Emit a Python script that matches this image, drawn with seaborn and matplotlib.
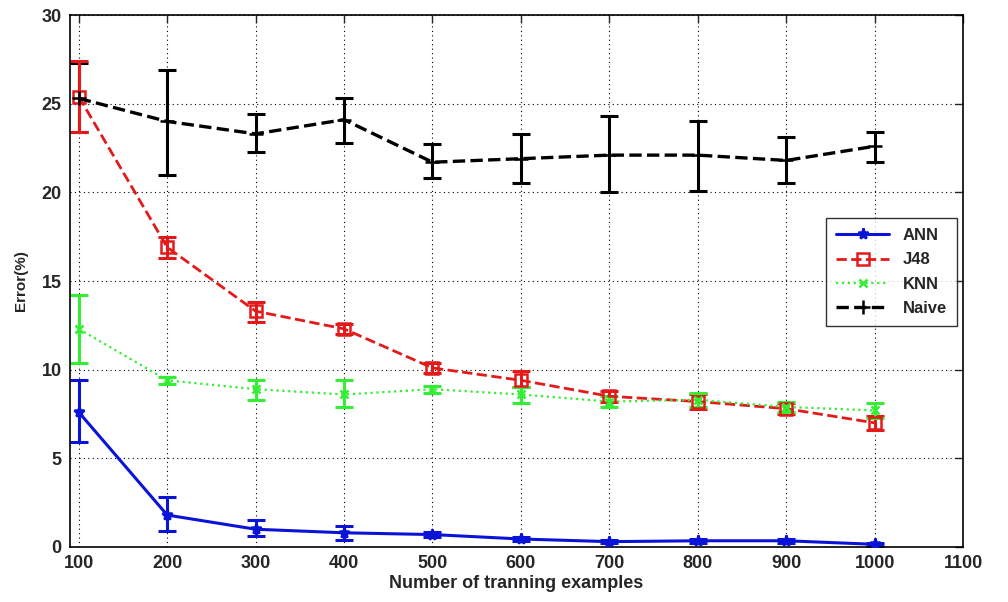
import numpy as np
import pandas as pd
import matplotlib
matplotlib.use("Agg")
import matplotlib.pyplot as plt
import seaborn as sns

x = [100, 200, 300, 400, 500, 600, 700, 800, 900, 1000]

ann = [7.6, 1.8, 1.0, 0.8, 0.7, 0.45, 0.3, 0.35, 0.35, 0.15]
ann_lo = [5.9, 0.9, 0.6, 0.4, 0.55, 0.35, 0.2, 0.25, 0.25, 0.05]
ann_hi = [9.4, 2.8, 1.5, 1.2, 0.85, 0.55, 0.4, 0.45, 0.45, 0.25]

j48 = [25.4, 16.9, 13.3, 12.3, 10.1, 9.4, 8.5, 8.2, 7.8, 7.0]
j48_lo = [23.4, 16.3, 12.7, 12.0, 9.8, 9.0, 8.2, 7.8, 7.5, 6.6]
j48_hi = [27.4, 17.5, 13.8, 12.6, 10.4, 9.9, 8.8, 8.6, 8.1, 7.4]

knn = [12.3, 9.4, 8.9, 8.6, 8.9, 8.6, 8.2, 8.3, 7.9, 7.7]
knn_lo = [10.4, 9.2, 8.3, 7.9, 8.7, 8.1, 7.9, 7.9, 7.6, 7.3]
knn_hi = [14.2, 9.6, 9.4, 9.4, 9.1, 9.0, 8.5, 8.7, 8.2, 8.1]

naive = [25.3, 24.0, 23.3, 24.1, 21.7, 21.9, 22.1, 22.1, 21.8, 22.6]
naive_lo = [23.4, 21.0, 22.3, 22.8, 20.8, 20.5, 20.0, 20.1, 20.5, 21.7]
naive_hi = [27.3, 26.9, 24.4, 25.3, 22.7, 23.3, 24.3, 24.0, 23.1, 23.4]

series = ["ANN", "J48", "KNN", "Naive"]
xlabel = "Number of tranning examples"
ylabel = "Error(%)"

sns.set_style("white")
plt.rcParams['font.family'] = ['Liberation Sans', 'DejaVu Sans']
plt.rcParams['font.weight'] = 'bold'

fig = plt.figure(figsize=(10.08, 6.02), dpi=100)
ax = fig.add_axes([0.0694, 0.0914, 0.8860, 0.8836])

styles = {
    "ANN": dict(color="#0a14d8", ls="-", marker="*", lw=2.2, ms=8, mfc="#0a14d8"),
    "J48": dict(color="#e41a1a", ls="--", marker="s", lw=2.0, ms=9, mfc="none"),
    "KNN": dict(color="#33ee33", ls=":", marker="x", lw=1.6, ms=6, mfc="#33ee33"),
    "Naive": dict(color="black", ls="--", marker="+", lw=2.4, ms=10, mfc="black"),
}
vals = {"ANN": (ann, ann_lo, ann_hi), "J48": (j48, j48_lo, j48_hi),
        "KNN": (knn, knn_lo, knn_hi), "Naive": (naive, naive_lo, naive_hi)}

for name in ["Naive", "J48", "KNN", "ANN"]:
    y, lo, hi = vals[name]
    st = styles[name]
    y = np.array(y); lo = np.array(lo); hi = np.array(hi)
    ax.errorbar(x, y, yerr=[y - lo, hi - y], fmt="none", ecolor=st["color"],
                elinewidth=2.2, capsize=6.5, capthick=2.2, zorder=2)

handles = {}
for name in series:
    y = vals[name][0]
    st = styles[name]
    df = pd.DataFrame({"x": x, "y": y})
    sns.lineplot(data=df, x="x", y="y", ax=ax, color=st["color"], linestyle=st["ls"],
                 marker=st["marker"], linewidth=st["lw"], markersize=st["ms"],
                 markerfacecolor=st["mfc"], markeredgecolor=st["color"],
                 markeredgewidth=1.8, zorder=3)
    handles[name] = ax.lines[-1]

ax.set_xlim(90, 1100)
ax.set_ylim(0, 30)
ax.set_xticks(range(100, 1101, 100))
ax.set_yticks(range(0, 31, 5))
ax.grid(True, color="black", linestyle=(0, (1, 3)), linewidth=0.8)
ax.set_axisbelow(True)
for s in ax.spines.values():
    s.set_visible(True)
    s.set_color("black")
    s.set_linewidth(1.2)
ax.tick_params(axis="both", direction="in", length=6, labelsize=13, width=1,
               top=True, right=True, pad=6)
for lab in ax.get_xticklabels() + ax.get_yticklabels():
    lab.set_fontweight("bold")
ax.set_xlabel(xlabel, fontsize=13, fontweight="bold", labelpad=2)
ax.set_ylabel(ylabel, fontsize=11, fontweight="bold", labelpad=10)

leg = ax.legend([handles[n] for n in series], series, loc="upper right",
                bbox_to_anchor=(0.993, 0.618), borderaxespad=0, frameon=True,
                fancybox=False, edgecolor="black", fontsize=12, handlelength=3.2,
                borderpad=0.6, labelspacing=0.55)
leg.get_frame().set_linewidth(1.0)
for t in leg.get_texts():
    t.set_fontweight("bold")

fig.savefig("out.png", dpi=100, facecolor="white")
